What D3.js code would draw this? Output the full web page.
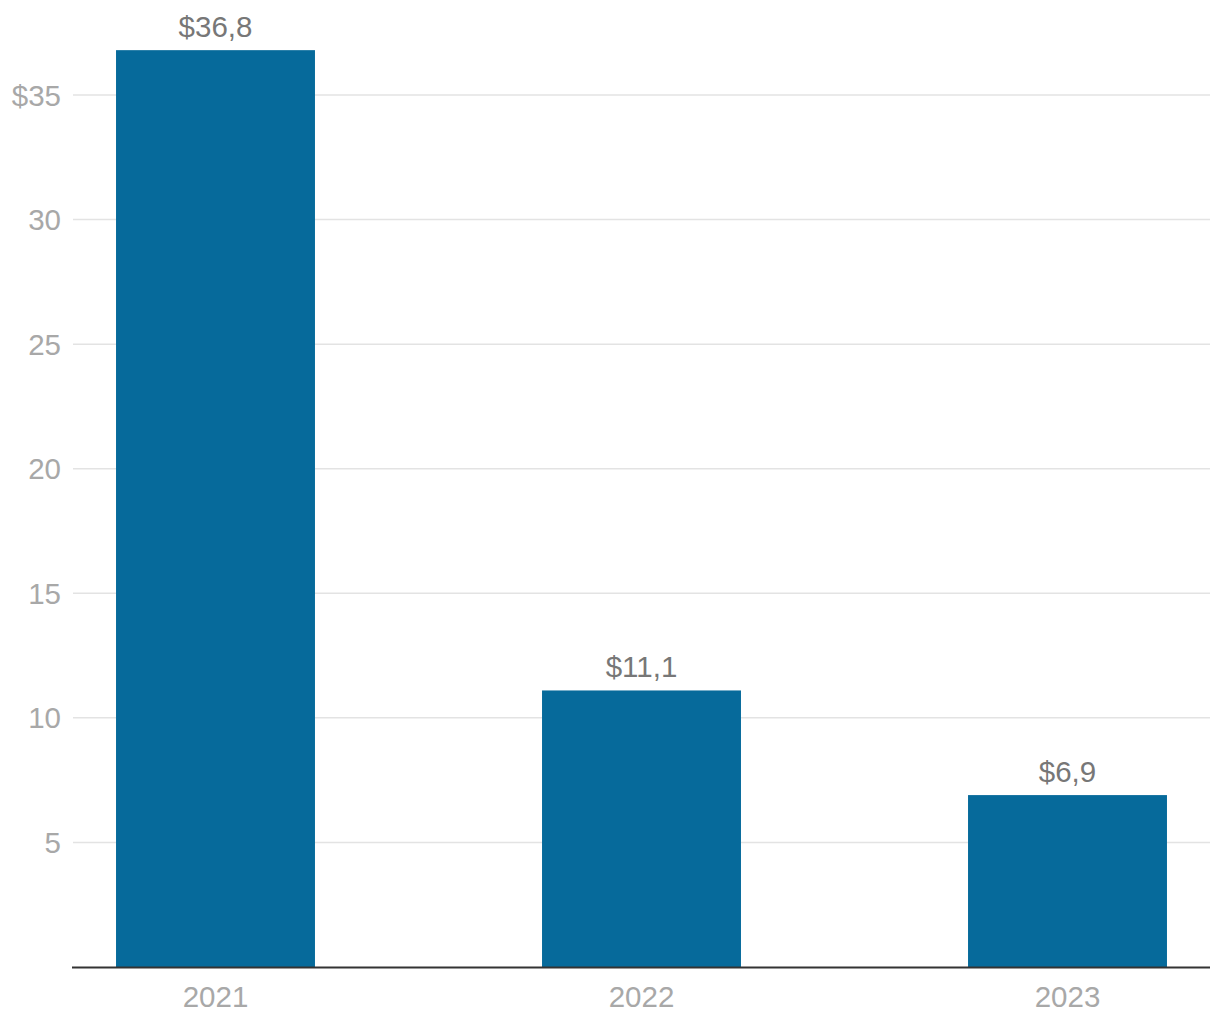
<!DOCTYPE html>
<html><head><meta charset="utf-8">
<script src="https://cdn.jsdelivr.net/npm/d3@7"></script>
<style>
html,body{margin:0;padding:0;background:#fff;}
text{font-family:"Liberation Sans",Arial,sans-serif;}
</style></head>
<body>
<svg id="c" width="1220" height="1020"></svg>
<script>
const categories = ["2021","2022","2023"];
const values = [36.8, 11.1, 6.9];
const valueLabels = ["$36,8","$11,1","$6,9"];
const yTicks = [5,10,15,20,25,30,35];
const yTickLabels = ["5","10","15","20","25","30","$35"];

(function(){
const svg = d3.select("#c");
const mLeft = 73, mRight = 1210, mTop = 95, mBottom = 967;
const fs = 29.5;
const y = d3.scaleLinear().domain([0,35]).range([mBottom, mTop]);
const x = d3.scaleBand().domain(categories).range([mLeft, mRight]).paddingInner(0.533).paddingOuter(0.101);

// gridlines
svg.append("g").selectAll("line").data(yTicks).join("line")
  .attr("x1", mLeft).attr("x2", mRight)
  .attr("y1", d=>y(d)).attr("y2", d=>y(d))
  .attr("stroke", "#e3e3e3").attr("stroke-width", 1.5);

// y tick labels
svg.append("g").selectAll("text").data(yTicks).join("text")
  .attr("x", 61).attr("y", d=>y(d)).attr("dy","0.36em")
  .attr("text-anchor","end").attr("font-size",fs).attr("fill","#a8a8a8")
  .text((d,i)=>yTickLabels[i]);

// bars
svg.append("g").selectAll("rect").data(values).join("rect")
  .attr("x",(d,i)=>x(categories[i])).attr("width",x.bandwidth())
  .attr("y",d=>y(d)).attr("height",d=>y(0)-y(d))
  .attr("fill","#066a9b");

// value labels
svg.append("g").selectAll("text").data(values).join("text")
  .attr("x",(d,i)=>x(categories[i])+x.bandwidth()/2)
  .attr("y",d=>y(d)-13)
  .attr("text-anchor","middle").attr("font-size",fs).attr("fill","#777")
  .text((d,i)=>valueLabels[i]);

// baseline
svg.append("line").attr("x1",mLeft-1).attr("x2",mRight)
  .attr("y1",y(0)+0.5).attr("y2",y(0)+0.5)
  .attr("stroke","#333").attr("stroke-width",2);

// x labels
svg.append("g").selectAll("text").data(categories).join("text")
  .attr("x",d=>x(d)+x.bandwidth()/2).attr("y",1007)
  .attr("text-anchor","middle").attr("font-size",fs).attr("fill","#a8a8a8")
  .text(d=>d);
})();
</script>
</body></html>
